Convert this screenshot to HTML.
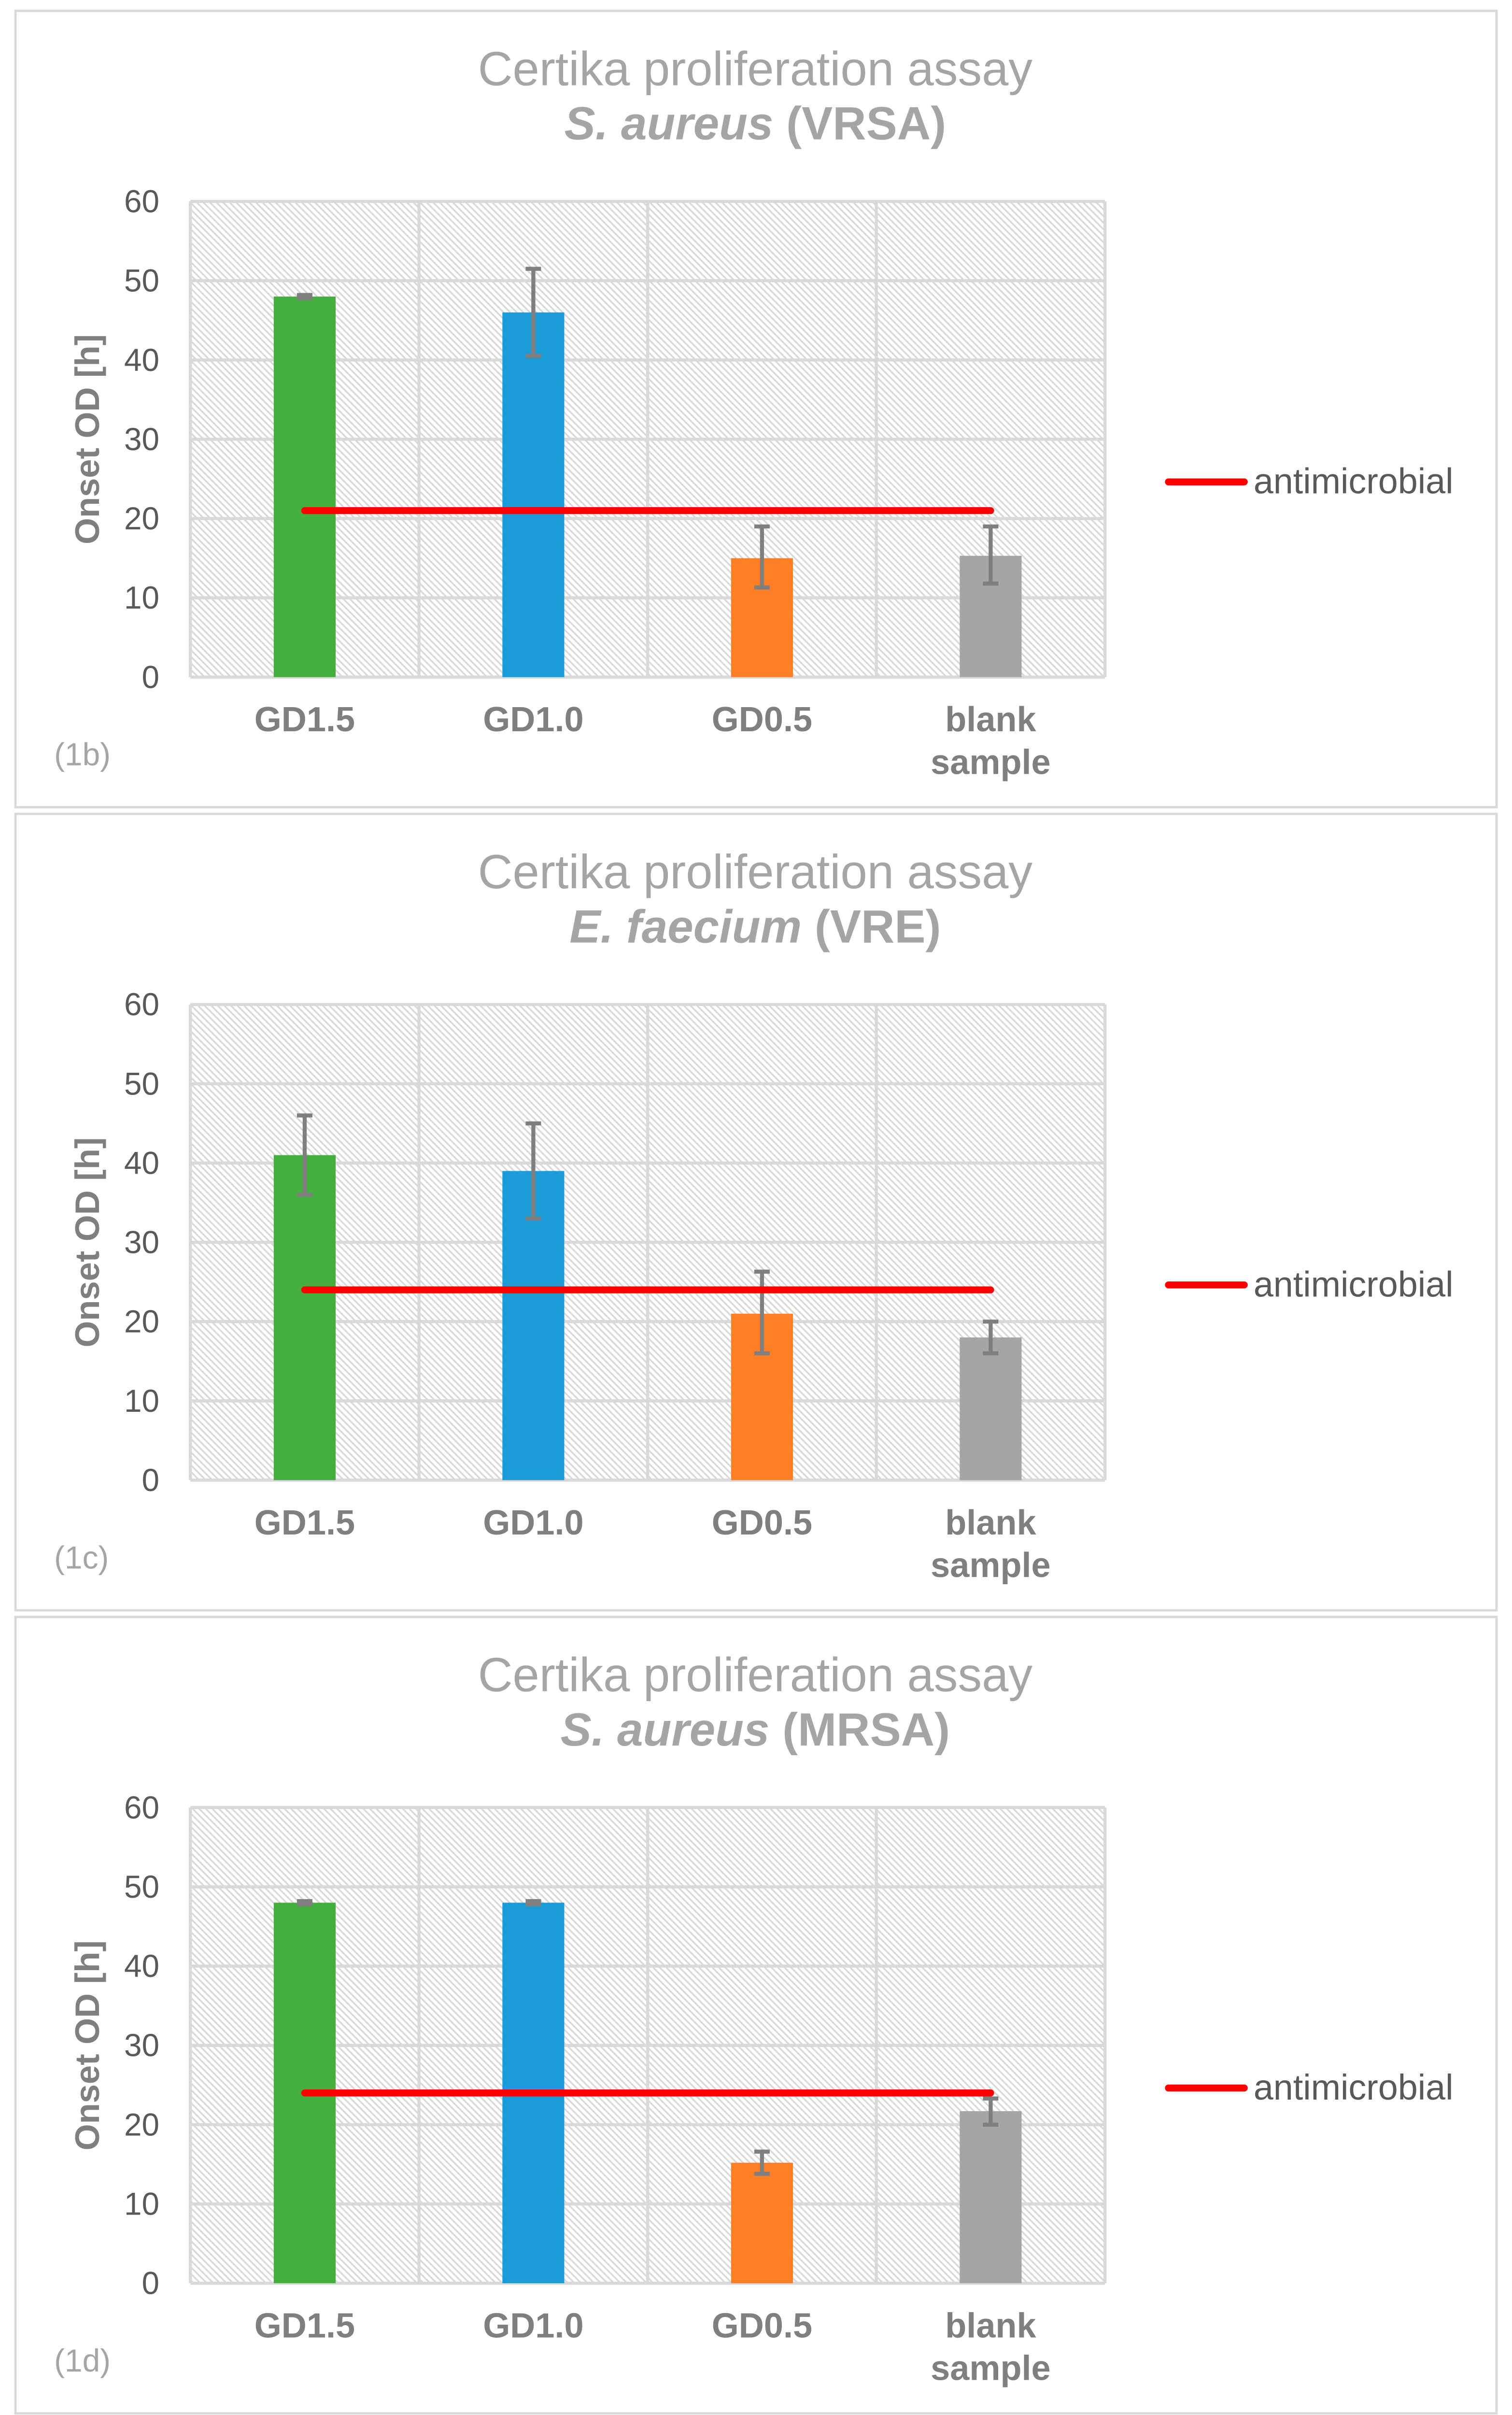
<!DOCTYPE html>
<html><head><meta charset="utf-8"><style>
html,body{margin:0;padding:0;background:#fff;width:3131px;height:5030px;overflow:hidden;}
svg{display:block;font-family:"Liberation Sans",Arial,sans-serif;}
</style></head><body>
<svg id="root" width="3131" height="5030" viewBox="0 0 977 1568" preserveAspectRatio="none" xmlns="http://www.w3.org/2000/svg">
<defs>
<pattern id="hatch" patternUnits="userSpaceOnUse" width="3" height="3" patternTransform="rotate(-45)">
<rect width="3" height="3" fill="#fff"/>
<rect x="0" y="0" width="1.1" height="3" fill="#d9d9d9"/>
</pattern>
</defs>
</svg>
<script>
const categories = ["GD1.5","GD1.0","GD0.5","blank sample"];
const barColors = ["#44af3c","#1c9bd7","#ff7f27","#a5a5a5"];
const yTicks = [0,10,20,30,40,50,60];
const panelLabels = ["(1b)","(1c)","(1d)"];
const organisms = ["S. aureus","E. faecium","S. aureus"];
const strains = [" (VRSA)"," (VRE)"," (MRSA)"];
const values1 = [48,46,15,15.3];
const errLow1 = [47.8,40.5,11.3,11.8];
const errHigh1 = [48.2,51.5,19,19];
const line1 = 21;
const values2 = [41,39,21,18];
const errLow2 = [36,33,16,16];
const errHigh2 = [46,45,26.3,20];
const line2 = 24;
const values3 = [48,48,15.2,21.7];
const errLow3 = [47.8,47.8,13.8,20];
const errHigh3 = [48.2,48.2,16.6,23.3];
const line3 = 24;

const panels = [
 {v:values1,lo:errLow1,hi:errHigh1,line:line1},
 {v:values2,lo:errLow2,hi:errHigh2,line:line2},
 {v:values3,lo:errLow3,hi:errHigh3,line:line3}
];
const NS="http://www.w3.org/2000/svg";
const root=document.getElementById('root');
function mk(tag,attrs,parent,text){const e=document.createElementNS(NS,tag);for(const k in attrs)e.setAttribute(k,attrs[k]);if(text!==undefined)e.textContent=text;(parent||root).appendChild(e);return e;}

panels.forEach((p,i)=>{
 const off=i*518.3;
 const g=mk('g',{});
 
 
 const border=mk('rect',{x:10,y:7+off,width:957,height:514,fill:'#fff',stroke:'#d9d9d9','stroke-width':1.5},g);
 
 
 const L=123,R=714,T=130+off,B=437+off;
 const y=v=>B-(v/60)*(B-T);
 const cw=(R-L)/categories.length;
 const x=c=>L+cw*(c+0.5);
 const t1=mk('text',{x:488,y:55+off,'text-anchor':'middle','font-size':31,fill:'#a5a5a5'},g,'Certika proliferation assay');
 
 
 const t2=mk('text',{x:488,y:90+off,'text-anchor':'middle','font-size':30,fill:'#a5a5a5','font-weight':'bold'},g);
 
 
 mk('tspan',{'font-style':'italic'},t2,organisms[i]);
 mk('tspan',{},t2,strains[i]);
 const bg=mk('rect',{x:L,y:T,width:R-L,height:B-T,fill:'url(#hatch)'},g);
 
 
 yTicks.forEach(tv=>{
  const gl=mk('line',{x1:L,x2:R,y1:y(tv),y2:y(tv),stroke:'#d9d9d9','stroke-width':2},g);
  
  
  const tl=mk('text',{x:103,y:y(tv)+7,'text-anchor':'end','font-size':20.5,fill:'#595959'},g,String(tv));
  
  
 });
 for(let c=0;c<=categories.length;c++){
  const vl=mk('line',{x1:L+cw*c,x2:L+cw*c,y1:T,y2:B,stroke:'#d9d9d9','stroke-width':2},g);
  
  
 }
 categories.forEach((cat,c)=>{
  const bw=40;
  const bar=mk('rect',{x:x(c)-bw/2,y:y(p.v[c]),width:bw,height:B-y(p.v[c]),fill:barColors[c]},g);
  
  
  const eb=mk('path',{d:`M${x(c)} ${y(p.lo[c])}V${y(p.hi[c])}M${x(c)-5} ${y(p.lo[c])}H${x(c)+5}M${x(c)-5} ${y(p.hi[c])}H${x(c)+5}`,stroke:'#7f7f7f','stroke-width':2.6,fill:'none'},g);
  
  
  const words=cat.split(' ');
  words.forEach((w,k)=>{
   const xl=mk('text',{x:x(c),y:472+off+k*27.5,'text-anchor':'middle','font-size':22.5,'font-weight':'bold',fill:'#7f7f7f'},g,w);
   
   
  });
 });
 const am=mk('line',{x1:x(0),x2:x(3),y1:y(p.line),y2:y(p.line),stroke:'#ff0000','stroke-width':4.5,'stroke-linecap':'round'},g);
 
 
 const yt=mk('text',{x:0,y:0,transform:`translate(64 ${(T+B)/2}) rotate(-90)`,'text-anchor':'middle','font-size':22,'font-weight':'bold',fill:'#7f7f7f'},g,'Onset OD [h]');
 
 
 const ll=mk('line',{x1:755,x2:804,y1:311+off,y2:311+off,stroke:'#ff0000','stroke-width':4.5,'stroke-linecap':'round'},g);
 
 
 const lt=mk('text',{x:810,y:318.5+off,'font-size':23,fill:'#595959'},g,'antimicrobial');
 
 
 const pl=mk('text',{x:35,y:494+off,'font-size':20.5,fill:'#a5a5a5'},g,panelLabels[i]);
 
 
});
</script>
</body></html>
